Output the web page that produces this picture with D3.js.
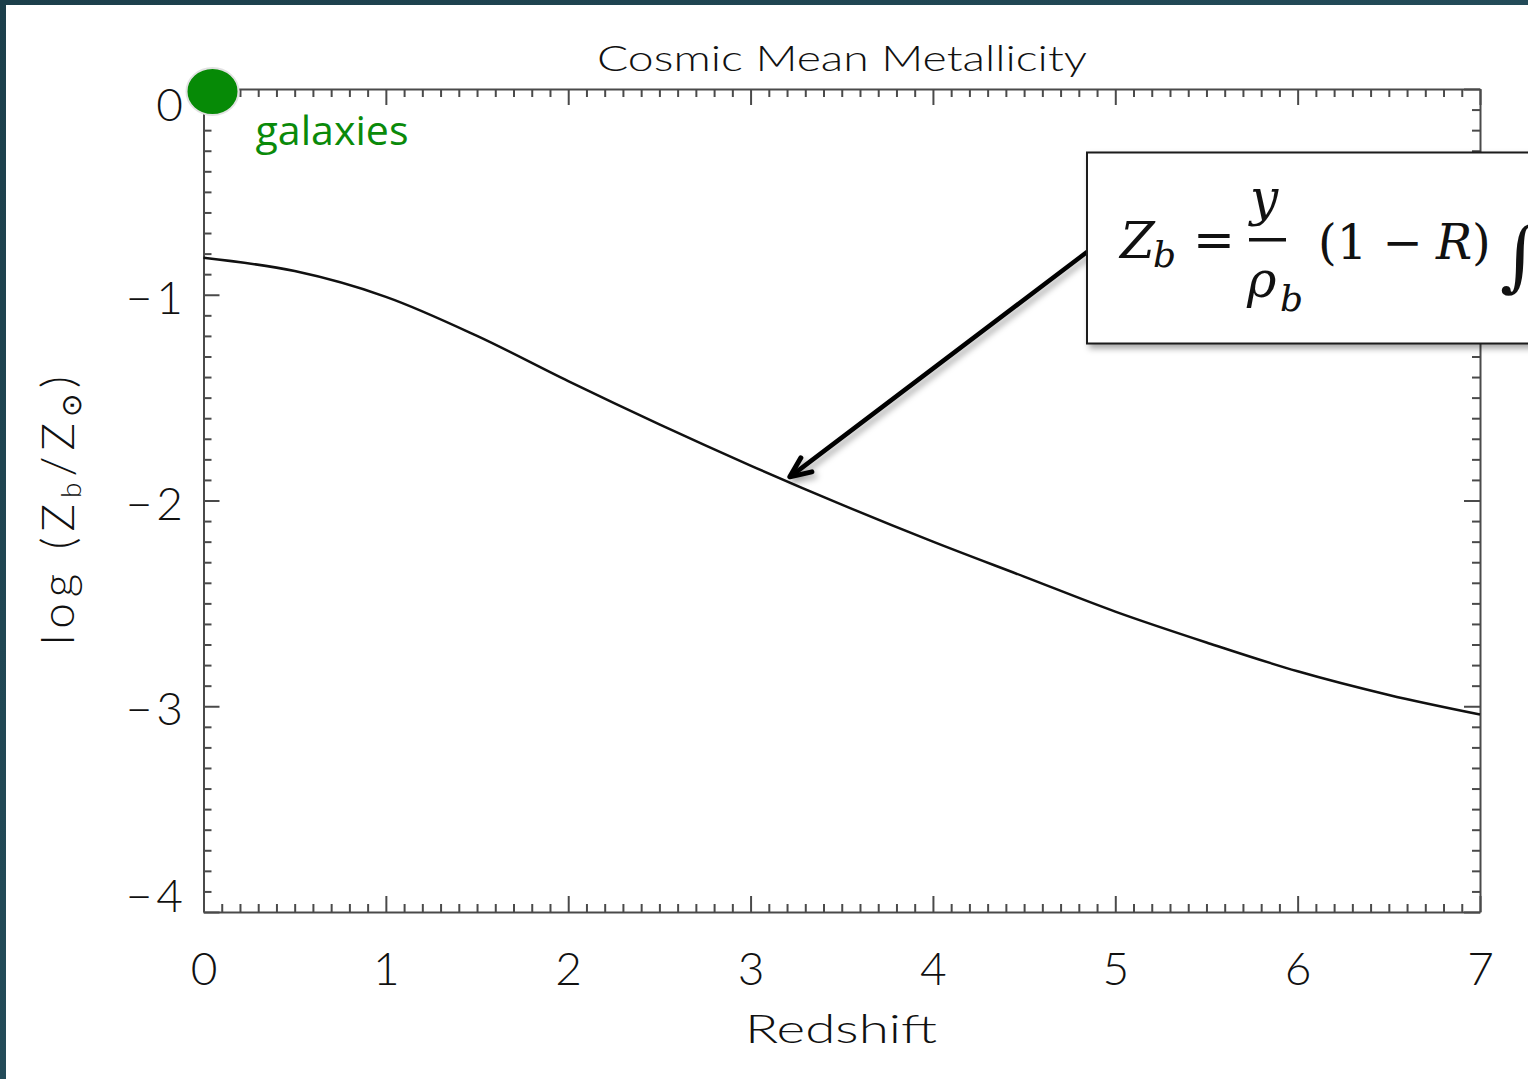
<!DOCTYPE html>
<html>
<head>
<meta charset="utf-8">
<script src="https://cdn.jsdelivr.net/npm/d3@7"></script>
<style>
  html, body { margin: 0; padding: 0; background: #1e4350; }
  svg { display: block; }
</style>
</head>
<body>
<svg id="chart" width="1528" height="1079"></svg>
<script>
// ---- data ----
const redshift = [0, 0.5, 1, 1.5, 2, 2.5, 3, 3.5, 4, 4.5, 5, 5.5, 6, 6.5, 7];
const logZ     = [-0.82, -0.885, -1.01, -1.20, -1.42, -1.63, -1.83, -2.02, -2.20, -2.37, -2.54, -2.69, -2.83, -2.945, -3.04];
const xTicks = [0, 1, 2, 3, 4, 5, 6, 7];
const yTicks = [0, -1, -2, -3, -4];
const titleText = "Cosmic Mean Metallicity";
const xLabel = "Redshift";
const galaxyPoint = [{ z: 0, v: 0, label: "galaxies" }];

const svg = d3.select("#chart");
const W = 1528, H = 1079;

// background (slide)
const defs = svg.append("defs");
const bg = defs.append("linearGradient").attr("id", "bg").attr("x1", 0).attr("y1", 0).attr("x2", 1).attr("y2", 1);
bg.append("stop").attr("offset", 0).attr("stop-color", "#1c3f4b");
bg.append("stop").attr("offset", 1).attr("stop-color", "#2a5766");
svg.append("rect").attr("width", W).attr("height", H).attr("fill", "url(#bg)");
svg.append("rect").attr("x", 6).attr("y", 5).attr("width", W - 6).attr("height", H - 5).attr("fill", "#ffffff");

const shadow = defs.append("filter").attr("id", "shadow").attr("x", "-20%").attr("y", "-20%").attr("width", "150%").attr("height", "150%");
shadow.append("feDropShadow").attr("dx", 3).attr("dy", 4).attr("stdDeviation", 3).attr("flood-color", "#000").attr("flood-opacity", 0.35);

// scales
const x = d3.scaleLinear().domain([0, 7]).range([203.5, 1480]);
const y = d3.scaleLinear().domain([-4, 0]).range([912, 89]);

const axisColor = "#4a4a4a";
const tickFont = "'Lato', 'Inter', 'DejaVu Sans', sans-serif";
const minorX = d3.range(0, 70.01, 1).map(d => d / 10).filter(d => Math.abs(d - Math.round(d)) > 1e-6);
const minorY = d3.range(-40, 0.01, 1).map(d => d / 10).filter(d => Math.abs(d - Math.round(d)) > 1e-6);

function styleAxis(g) {
  g.select(".domain").attr("stroke", axisColor).attr("stroke-width", 2);
  g.selectAll(".tick line").attr("stroke", axisColor).attr("stroke-width", 2);
}

// bottom axis (ticks point inward/up)
const gB = svg.append("g").attr("transform", `translate(0,${y(-4)})`)
  .call(d3.axisBottom(x).tickValues(xTicks).tickSize(-16).tickPadding(40).tickSizeOuter(0).tickFormat(d3.format("d")));
styleAxis(gB);
gB.selectAll(".tick text").attr("font-family", tickFont).attr("font-weight", 300).attr("font-size", 46).attr("fill", "#111");
svg.append("g").attr("transform", `translate(0,${y(-4)})`)
  .call(d3.axisBottom(x).tickValues(minorX).tickSize(-8).tickFormat("").tickSizeOuter(0))
  .call(styleAxis).select(".domain").remove();

// top axis
const gT = svg.append("g").attr("transform", `translate(0,${y(0)})`)
  .call(d3.axisTop(x).tickValues(xTicks).tickSize(-16).tickFormat("").tickSizeOuter(0));
styleAxis(gT);
svg.append("g").attr("transform", `translate(0,${y(0)})`)
  .call(d3.axisTop(x).tickValues(minorX).tickSize(-8).tickFormat("").tickSizeOuter(0))
  .call(styleAxis).select(".domain").remove();

// left axis
const gL = svg.append("g").attr("transform", `translate(${x(0)},0)`)
  .call(d3.axisLeft(y).tickValues(yTicks).tickSize(-16).tickFormat("").tickSizeOuter(0));
styleAxis(gL);
svg.append("g").attr("transform", `translate(${x(0)},0)`)
  .call(d3.axisLeft(y).tickValues(minorY).tickSize(-8).tickFormat("").tickSizeOuter(0))
  .call(styleAxis).select(".domain").remove();

// right axis
const gR = svg.append("g").attr("transform", `translate(${x(7)},0)`)
  .call(d3.axisRight(y).tickValues(yTicks).tickSize(-16).tickFormat("").tickSizeOuter(0));
styleAxis(gR);
svg.append("g").attr("transform", `translate(${x(7)},0)`)
  .call(d3.axisRight(y).tickValues(minorY).tickSize(-8).tickFormat("").tickSizeOuter(0))
  .call(styleAxis).select(".domain").remove();

// y tick labels (end labels nudged inside the frame as in the reference)
svg.append("g").selectAll("text").data(yTicks).join("text")
  .attr("x", 187)
  .attr("y", d => y(d) + (d === 0 ? 16 : d === -4 ? -16 : 3))
  .attr("dy", "0.35em")
  .attr("text-anchor", "end")
  .attr("font-family", tickFont).attr("font-weight", 300).attr("font-size", 46).attr("fill", "#111")
  .attr("letter-spacing", 4)
  .text(d => d === 0 ? "0" : "\u2212" + Math.abs(d));

// title
svg.append("text").attr("x", 597).attr("y", 71)
  .attr("font-family", tickFont).attr("font-weight", 300).attr("font-size", 35).attr("fill", "#111")
  .attr("textLength", 490).attr("lengthAdjust", "spacingAndGlyphs")
  .text(titleText);

// x label
svg.append("text").attr("x", 745).attr("y", 1043)
  .attr("font-family", tickFont).attr("font-weight", 300).attr("font-size", 40).attr("fill", "#111")
  .attr("textLength", 192).attr("lengthAdjust", "spacingAndGlyphs")
  .text(xLabel);

// y label: log (Z_b/Z_sun)
const yl = svg.append("text").attr("transform", "translate(74,645) rotate(-90)")
  .attr("font-family", tickFont).attr("font-weight", 300).attr("font-size", 46).attr("fill", "#111")
  .attr("letter-spacing", 6);
yl.append("tspan").text("log (Z");
yl.append("tspan").attr("font-size", 28).attr("dy", 7).text("b");
yl.append("tspan").attr("dy", -7).text("/Z");
yl.append("tspan").attr("font-size", 28).attr("dy", 7).text("\u2299");
yl.append("tspan").attr("dy", -7).text(")");

// curve
const line = d3.line().x((d, i) => x(redshift[i])).y(d => y(d)).curve(d3.curveCatmullRom.alpha(0.5));
svg.append("path").datum(logZ).attr("d", line)
  .attr("fill", "none").attr("stroke", "#111").attr("stroke-width", 2.5);

// galaxies point
svg.append("g").selectAll("ellipse").data(galaxyPoint).join("ellipse")
  .attr("cx", d => x(d.z) + 9).attr("cy", d => y(d.v) + 2.5)
  .attr("rx", 26).attr("ry", 23.5)
  .attr("fill", "#068a06").attr("stroke", "#e2e2e2").attr("stroke-width", 2);
svg.append("g").selectAll("text").data(galaxyPoint).join("text")
  .attr("x", d => x(d.z) + 52).attr("y", d => y(d.v) + 56)
  .attr("font-family", "'Open Sans', 'Noto Sans', sans-serif").attr("font-size", 40).attr("fill", "#0a8a0a")
  .attr("textLength", 153).attr("lengthAdjust", "spacingAndGlyphs")
  .text(d => d.label);

// arrow (pointing at the curve near z ~ 3.2)
const arrowTip = [x(3.21) + 1, y(-1.89) - 1];
const arrowStart = [1087, 252];
const ag = svg.append("g").attr("filter", "url(#shadow)");
ag.append("line").attr("x1", arrowStart[0]).attr("y1", arrowStart[1]).attr("x2", arrowTip[0] + 4).attr("y2", arrowTip[1] - 3)
  .attr("stroke", "#000").attr("stroke-width", 4.5).attr("stroke-linecap", "round");
ag.append("path")
  .attr("d", `M${arrowTip[0] + 11},${arrowTip[1] - 19} L${arrowTip[0]},${arrowTip[1]} L${arrowTip[0] + 22},${arrowTip[1] - 5}`)
  .attr("fill", "none").attr("stroke", "#000").attr("stroke-width", 5).attr("stroke-linecap", "round").attr("stroke-linejoin", "round");

// equation box
const eq = svg.append("g");
eq.append("rect").attr("x", 1087).attr("y", 152.5).attr("width", 470).attr("height", 191)
  .attr("fill", "#fff").attr("stroke", "#1a1a1a").attr("stroke-width", 2).attr("filter", "url(#shadow)");
const mathFont = "'DejaVu Serif', 'Liberation Serif', serif";
function mt(t, xx, yy, size, italic, anchor) {
  eq.append("text").attr("x", xx).attr("y", yy).attr("font-family", mathFont).attr("font-size", size)
    .attr("font-style", italic ? "italic" : "normal").attr("text-anchor", anchor || "start").attr("fill", "#111").text(t);
}
mt("Z", 1120, 258, 50, true);
mt("b", 1153, 267, 36, true);
mt("=", 1193, 257, 50, false);
eq.append("rect").attr("x", 1249).attr("y", 238).attr("width", 37).attr("height", 3.5).attr("fill", "#111");
mt("y", 1250, 215, 50, true);
mt("\u03C1", 1247, 297, 50, true);
mt("b", 1280, 311, 36, true);
mt("(1 \u2212 ", 1318, 259, 48, false);
mt("R", 1436, 259, 48, true);
mt(")", 1472, 259, 48, false);
mt("\u222B", 1500, 282, 76, false);
</script>
</body>
</html>
